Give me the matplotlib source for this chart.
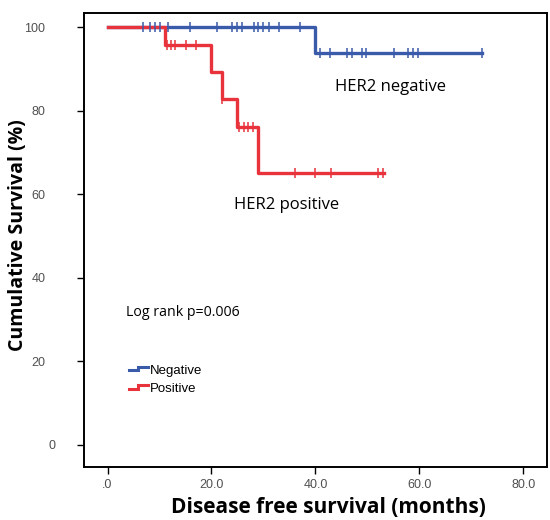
import matplotlib
matplotlib.use("Agg")
import matplotlib.pyplot as plt
from matplotlib.lines import Line2D
from matplotlib.legend_handler import HandlerBase
from matplotlib.transforms import ScaledTranslation

# step curves (event times and survival levels, %)
neg_times = [0, 40.0, 72.0]
neg_surv = [100, 93.8, 93.8]
pos_times = [0, 11.0, 20.0, 22.0, 25.0, 29.0, 53.2]
pos_surv = [100, 95.7, 89.3, 82.8, 76.0, 65.1, 65.1]

# censored observations
neg_cens = [6.9, 8.1, 9.1, 10.0, 11.7, 15.9, 21.0, 24.0, 25.0, 25.9, 28.1,
            29.0, 30.0, 31.0, 33.0, 37.1, 40.9, 42.8, 46.0, 47.0, 48.9,
            49.8, 55.2, 57.9, 58.8, 59.8, 72.0]
pos_cens = [11.4, 12.2, 13.0, 15.0, 17.1, 22.0, 25.3, 26.2, 27.1, 28.0,
            36.0, 40.0, 43.0, 52.1, 53.0]

xticks = [0, 20, 40, 60, 80]
xtick_labels = [".0", "20.0", "40.0", "60.0", "80.0"]
yticks = [0, 20, 40, 60, 80, 100]

blue = "#3A5BAA"
red = "#E8333C"


def level_at(times, surv, t):
    v = surv[0]
    for tt, s in zip(times, surv):
        if t >= tt:
            v = s
    return v


class StepHandler(HandlerBase):
    def create_artists(self, legend, orig, xd, yd, w, h, fontsize, trans):
        xs = [xd, xd + w * 0.45, xd + w * 0.45, xd + w]
        ys = [yd + h * 0.35, yd + h * 0.35, yd + h * 0.75, yd + h * 0.75]
        ln = Line2D(xs, ys, color=orig.get_color(), lw=2.2,
                    solid_joinstyle="miter")
        ln.set_transform(trans)
        return [ln]


fig = plt.figure(figsize=(5.5, 5.2), dpi=100)
ax = fig.add_axes([0.153, 0.102, 0.842, 0.873])

ax.step(neg_times, neg_surv, where="post", color=blue, lw=2.4, zorder=2)
ax.step(pos_times, pos_surv, where="post", color=red, lw=2.4, zorder=3)

ax.plot(pos_cens, [level_at(pos_times, pos_surv, t) for t in pos_cens],
        ls="none", marker="|", ms=7, mew=1.1, color=red, zorder=4)
ax.plot(neg_cens, [level_at(neg_times, neg_surv, t) for t in neg_cens],
        ls="none", marker="|", ms=7, mew=1.1, color=blue, zorder=5)

ax.set_xlim(-4.5, 84.6)
ax.set_ylim(-5.3, 103.4)
ax.set_xticks(xticks)
ax.set_xticklabels(xtick_labels)
ax.set_yticks(yticks)

for sp in ax.spines.values():
    sp.set_linewidth(1.4)
ax.tick_params(direction="out", length=5, width=1, labelsize=9,
               labelcolor="#505050")
ax.tick_params(axis="x", pad=4)
ax.tick_params(axis="y", pad=23)
for lab in ax.get_xticklabels() + ax.get_yticklabels():
    lab.set_family("Liberation Sans")
# SPSS puts the lone "0" a bit further right
zero_lab = ax.get_yticklabels()[0]
zero_lab.set_transform(zero_lab.get_transform() +
                       ScaledTranslation(0.1, 0, fig.dpi_scale_trans))

ax.set_xlabel("Disease free survival (months)", fontsize=15,
              fontweight="bold", family="Open Sans")
ax.xaxis.set_label_coords(0.528, -0.066)
ax.set_ylabel("Cumulative Survival (%)", fontsize=14, fontweight="bold",
              family="Open Sans")
ax.yaxis.set_label_coords(-0.122, 0.51)

ax.text(43.8, 85.6, "HER2 negative", fontsize=12, family="Open Sans",
        va="center")
ax.text(24.4, 57.4, "HER2 positive", fontsize=12, family="Open Sans",
        va="center")
ax.text(3.6, 31.6, "Log rank p=0.006", fontsize=10.2, family="Open Sans",
        va="center")

handles = [Line2D([], [], color=blue), Line2D([], [], color=red)]
ax.legend(handles, ["Negative", "Positive"], loc="upper left",
          bbox_to_anchor=(0.072, 0.252), frameon=False,
          handler_map={Line2D: StepHandler()}, handlelength=1.4,
          handletextpad=0.15, labelspacing=0.45,
          prop={"family": "Liberation Sans", "size": 9.5})

fig.savefig("out.png", dpi=100)
